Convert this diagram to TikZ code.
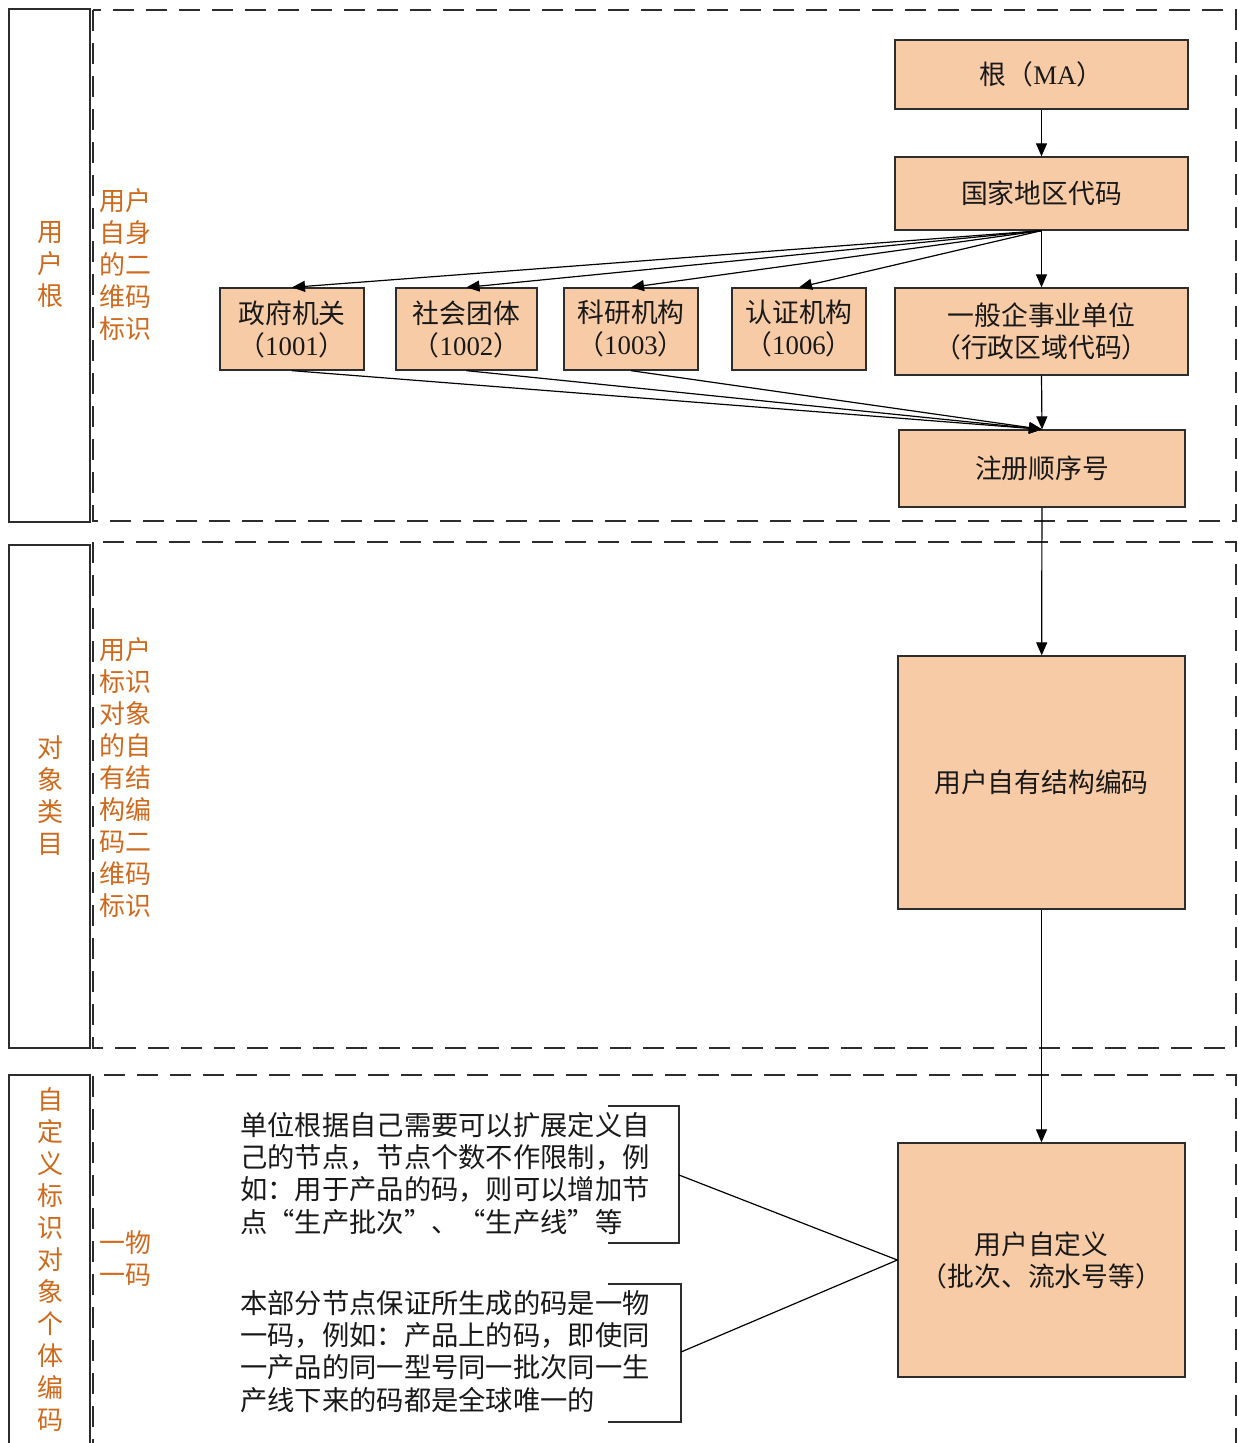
\documentclass[tikz,border=0pt]{standalone}
\usepackage{fontspec}
\setmainfont{Liberation Serif}
\newfontfamily\cjk{Noto Sans CJK SC}
\usetikzlibrary{arrows.meta}
\definecolor{peach}{RGB}{248,203,167}
\definecolor{orangetxt}{RGB}{206,106,30}
\definecolor{edge}{RGB}{45,45,45}
\tikzset{
  box/.style={draw=edge, fill=peach, line width=1.3pt, inner sep=0pt, align=center,
    font=\cjk\fontsize{26.8}{32}\selectfont, text=black!90},
  side/.style={draw=edge, line width=1.4pt},
  dashbox/.style={draw=edge, line width=1.4pt, dash pattern=on 21pt off 12pt},
  vlabel/.style={text=orangetxt, align=center, inner sep=0pt, font=\cjk\fontsize{26}{32}\selectfont},
  mlabel/.style={text=orangetxt, align=left, inner sep=0pt, font=\cjk\fontsize{26}{32}\selectfont},
  para/.style={align=left, inner sep=0pt, anchor=north west, font=\cjk\fontsize{27.3}{32.3}\selectfont, text=black!90},
  arr/.style={draw=black, line width=1.2pt, -{Triangle[length=13pt,width=11pt]}},
  conn/.style={draw=black, line width=1.2pt},
  bracket/.style={draw=edge, line width=1.3pt}
}
\begin{document}
\begin{tikzpicture}[x=1pt,y=-1pt]
\useasboundingbox[fill=white] (0,0) rectangle (1237,1443);

% section frames
\draw[side] (9,9) rectangle (90,522);
\draw[dashbox] (93,10) rectangle (1236,521);
\draw[side] (9,545) rectangle (90,1048);
\draw[dashbox] (93,542) rectangle (1236,1048);
\draw[side] (9,1460) -- (9,1075) -- (90,1075) -- (90,1460);
\draw[dashbox] (93,1460) -- (93,1075) -- (1236,1075) -- (1236,1460);

% left labels
\node[vlabel] (l1) at (50,265) {用\\户\\根};
\node[vlabel] (l2) at (50,796) {对\\象\\类\\目};
\node[vlabel] (l3) at (50,1260) {自\\定\\义\\标\\识\\对\\象\\个\\体\\编\\码};

\node[mlabel] (m1) at (125,265) {用户\\自身\\的二\\维码\\标识};
\node[mlabel] (m2) at (125,778) {用户\\标识\\对象\\的自\\有结\\构编\\码二\\维码\\标识};
\node[mlabel] (m3) at (125,1259) {一物\\一码};

% boxes
\node[box, minimum width=293pt, minimum height=69pt] (root) at (1041.5,74.5) {根（{\rmfamily MA}）};
\node[box, minimum width=293pt, minimum height=73pt] (gj) at (1041.5,193.5) {国家地区代码};
\node[box, minimum width=144pt, minimum height=82pt] (zf) at (292,329) {政府机关\\（{\rmfamily 1001}）};
\node[box, minimum width=141pt, minimum height=82pt] (st) at (466.5,329) {社会团体\\（{\rmfamily 1002}）};
\node[box, minimum width=134pt, minimum height=82pt] (ky) at (631,329) {科研机构\\（{\rmfamily 1003}）};
\node[box, minimum width=134pt, minimum height=82pt] (rz) at (799,329) {认证机构\\（{\rmfamily 1006}）};
\node[box, minimum width=293pt, minimum height=87pt] (yb) at (1041.5,331.5) {一般企事业单位\\（行政区域代码）};
\node[box, minimum width=286pt, minimum height=77pt] (zc) at (1042,468.5) {注册顺序号};
\node[box, minimum width=287pt, minimum height=253pt] (zy) at (1041.5,782.5) {用户自有结构编码};
\node[box, minimum width=287pt, minimum height=234pt] (zd) at (1041.5,1260) {用户自定义\\（批次、流水号等）};

% arrows
\draw[arr] (root) -- (gj);
\draw[arr] (gj.south) -- (zf.north);
\draw[arr] (gj.south) -- (st.north);
\draw[arr] (gj.south) -- (ky.north);
\draw[arr] (gj.south) -- (rz.north);
\draw[arr] (gj) -- (yb);
\draw[arr] (zf.south) -- (zc.north);
\draw[arr] (st.south) -- (zc.north);
\draw[arr] (ky.south) -- (zc.north);
\draw[arr] (yb.south) -- (zc.north);
\draw[arr] (zc) -- (zy);
\draw[arr] (zy) -- (zd);

% notes
\node[para] (p1) at (240,1112) {单位根据自己需要可以扩展定义自\\己的节点，节点个数不作限制，例\\如：用于产品的码，则可以增加节\\点“生产批次”、“生产线”等};
\node[para] (p2) at (240,1290) {本部分节点保证所生成的码是一物\\一码，例如：产品上的码，即使同\\一产品的同一型号同一批次同一生\\产线下来的码都是全球唯一的};

\draw[bracket] (608,1106) -- (679,1106) -- (679,1243) -- (608,1243);
\coordinate (b1) at (679,1175);
\draw[bracket] (608,1284) -- (681,1284) -- (681,1422) -- (608,1422);
\coordinate (b2) at (681,1352);
\draw[conn] (b1) -- (zd.west);
\draw[conn] (b2) -- (zd.west);
\end{tikzpicture}
\end{document}
